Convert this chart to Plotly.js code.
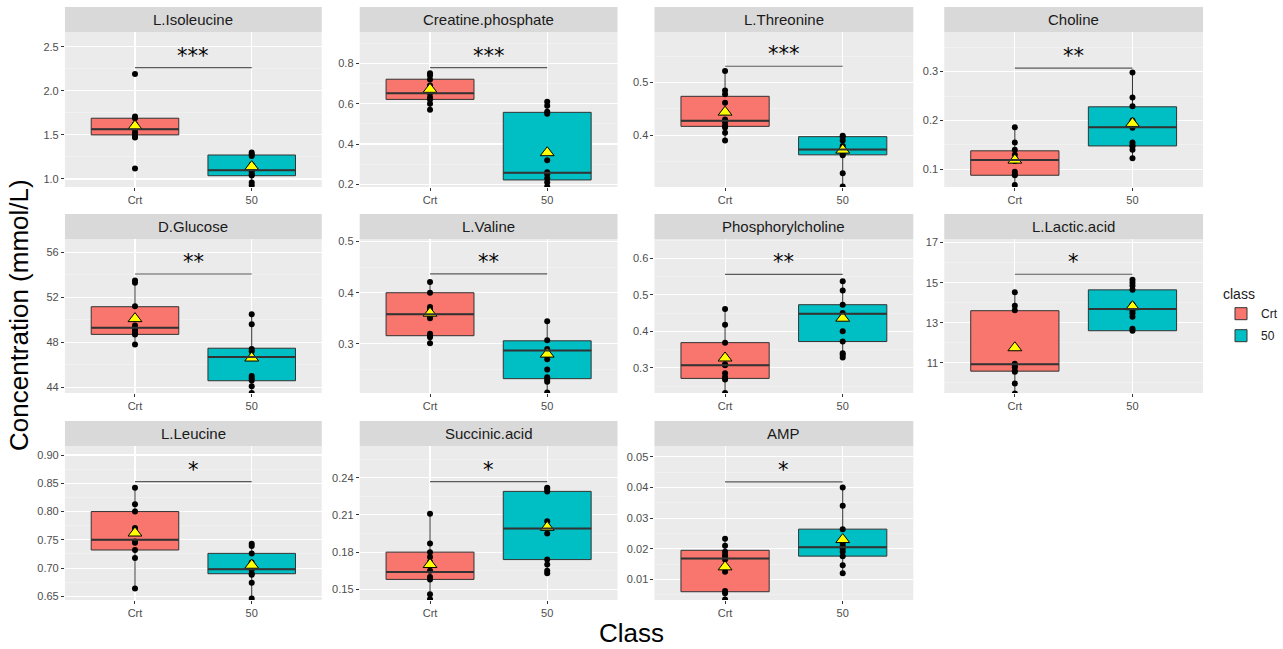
<!DOCTYPE html>
<html><head><meta charset="utf-8">
<script src="https://cdn.plot.ly/plotly-3.0.1.min.js"></script>
<style>html,body{margin:0;padding:0;background:#fff;} #chart{width:1283px;height:649px;}</style>
</head><body><div id="chart"></div>
<script>
// ---------------- DATA ----------------
const metabolites = ['L.Isoleucine','Creatine.phosphate','L.Threonine','Choline','D.Glucose','L.Valine','Phosphorylcholine','L.Lactic.acid','L.Leucine','Succinic.acid','AMP'];
const classes = ['Crt','50'];

const crtPoints = [
  [2.19,1.71,1.69,1.62,1.57,1.53,1.50,1.48,1.47,1.12],
  [0.75,0.74,0.72,0.69,0.66,0.65,0.63,0.62,0.60,0.57],
  [0.522,0.485,0.478,0.462,0.43,0.425,0.418,0.415,0.405,0.39],
  [0.186,0.155,0.14,0.13,0.12,0.117,0.095,0.09,0.088,0.068],
  [53.5,53.3,51.2,50.1,49.5,49.2,49.0,48.8,48.7,47.8],
  [0.421,0.40,0.372,0.368,0.355,0.35,0.32,0.316,0.313,0.301],
  [0.461,0.418,0.369,0.33,0.31,0.307,0.285,0.275,0.268,0.231],
  [14.52,13.85,13.62,10.95,10.87,10.78,10.6,10.55,9.97,9.47],
  [0.842,0.813,0.80,0.771,0.765,0.747,0.745,0.732,0.718,0.664],
  [0.211,0.187,0.18,0.176,0.172,0.165,0.16,0.158,0.146,0.142],
  [0.0233,0.021,0.019,0.018,0.0176,0.0165,0.0125,0.0062,0.0055,0.0035]
];
const g50Points = [
  [1.30,1.28,1.26,1.16,1.10,1.08,1.05,1.04,0.96,0.93],
  [0.61,0.59,0.56,0.55,0.32,0.26,0.25,0.23,0.21,0.19],
  [0.399,0.397,0.39,0.38,0.375,0.372,0.365,0.362,0.328,0.303],
  [0.298,0.247,0.229,0.2,0.185,0.155,0.15,0.147,0.14,0.123],
  [50.5,49.6,47.4,47.2,46.7,45.0,44.8,44.6,44.1,43.5],
  [0.344,0.307,0.29,0.285,0.27,0.25,0.235,0.23,0.226,0.205],
  [0.537,0.512,0.473,0.45,0.445,0.40,0.372,0.34,0.335,0.328],
  [15.14,15.0,14.85,14.64,13.9,13.6,13.47,13.3,12.7,12.6],
  [0.743,0.739,0.726,0.71,0.70,0.697,0.69,0.688,0.674,0.646],
  [0.232,0.231,0.229,0.205,0.2,0.195,0.174,0.17,0.165,0.163],
  [0.040,0.034,0.0264,0.022,0.021,0.020,0.019,0.0176,0.0146,0.012]
];

const crtQ1     = [1.50,0.621,0.417,0.088,48.7,0.316,0.271,10.58,0.732,0.158,0.006];
const crtMedian = [1.565,0.651,0.4275,0.119,49.3,0.358,0.307,10.92,0.75,0.164,0.0168];
const crtQ3     = [1.689,0.721,0.474,0.138,51.16,0.40,0.369,13.6,0.80,0.18,0.0195];
const crtLower  = [1.47,0.57,0.39,0.068,47.8,0.301,0.231,9.47,0.664,0.142,0.0035];
const crtUpper  = [1.71,0.75,0.522,0.186,53.5,0.421,0.461,14.52,0.842,0.211,0.0233];
const crtMean   = [1.60,0.671,0.444,0.119,50.1,0.36,0.327,11.75,0.762,0.17,0.0141];

const g50Q1     = [1.037,0.222,0.363,0.148,44.58,0.232,0.372,12.6,0.69,0.174,0.0176];
const g50Median = [1.10,0.258,0.373,0.186,46.7,0.287,0.448,13.69,0.698,0.199,0.0205];
const g50Q3     = [1.272,0.557,0.3975,0.228,47.47,0.306,0.473,14.64,0.726,0.229,0.0264];
const g50Lower  = [0.93,0.19,0.303,0.123,43.5,0.205,0.328,12.6,0.646,0.163,0.012];
const g50Upper  = [1.30,0.61,0.399,0.298,50.5,0.344,0.537,15.14,0.743,0.232,0.040];
const g50Mean   = [1.14,0.357,0.372,0.194,46.6,0.28,0.436,13.8,0.705,0.2,0.023];

const signifLabels = ['***','***','***','**','**','**','**','*','*','*','*'];
const signifY      = [2.262,0.778,0.531,0.307,54.07,0.437,0.556,15.42,0.853,0.2368,0.0418];

// axis scales
const yRanges = [[0.909,2.667],[0.187,0.955],[0.302,0.596],[0.064,0.381],[43.49,57.18],[0.204,0.505],[0.231,0.653],[9.49,17.18],[0.6435,0.916],[0.1414,0.2656],[0.0033,0.0535]];
const yTick0  = [1.0,0.2,0.4,0.1,44,0.3,0.3,11,0.65,0.15,0.01];
const yDtick  = [0.5,0.2,0.1,0.1,4,0.1,0.1,2,0.05,0.03,0.01];
const yFormat = ['.1f','.1f','.1f','.1f','.0f','.1f','.1f','.0f','.2f','.2f','.2f'];

// ---------------- LAYOUT GEOMETRY (pixels) ----------------
const W = 1283, H = 649;
const cols = [[65,322],[360,618],[655,914],[945,1204]];
const rows = [[32,187],[239,393],[446,600]];
const stripH = 25;
const colors = {Crt:'#F8766D', '50':'#00BFC4'};
const FONT = 'Liberation Sans, Arial, sans-serif';

const traces = [];
const layout = {
  width: W, height: H,
  margin: {l:0, r:0, t:0, b:0},
  paper_bgcolor: '#FFFFFF',
  plot_bgcolor: '#EBEBEB',
  boxmode: 'overlay',
  font: {family: FONT, color: '#4D4D4D', size: 11},
  showlegend: true,
  legend: {
    x: 1222/W, y: 1 - 281/H, xanchor: 'left', yanchor: 'top',
    title: {text: 'class', font: {size: 14, color: '#1A1A1A', family: FONT}},
    font: {size: 12, color: '#1A1A1A', family: FONT},
    bgcolor: 'rgba(0,0,0,0)', tracegroupgap: 3, itemwidth: 30
  },
  shapes: [], annotations: []
};

const groups = [
  {cls:'Crt', pts: crtPoints, q1: crtQ1, med: crtMedian, q3: crtQ3, lo: crtLower, hi: crtUpper, mean: crtMean},
  {cls:'50',  pts: g50Points, q1: g50Q1, med: g50Median, q3: g50Q3, lo: g50Lower, hi: g50Upper, mean: g50Mean}
];

metabolites.forEach((name, i) => {
  const r = Math.floor(i / 4), c = i % 4;
  const n = i === 0 ? '' : String(i + 1);
  const xa = 'x' + n, ya = 'y' + n;
  const [px0, px1] = cols[c];
  const [py0, py1] = rows[r];

  layout['xaxis' + n] = {
    domain: [px0 / W, px1 / W], anchor: ya, type: 'category',
    categoryorder: 'array', categoryarray: classes,
    range: [-0.6, 1.6], showgrid: true, gridcolor: '#FFFFFF', gridwidth: 1.1,
    zeroline: false, showline: false, ticks: 'outside', ticklen: 3, tickcolor: '#333333',
    tickfont: {size: 11, color: '#4D4D4D', family: FONT}, fixedrange: true
  };
  layout['yaxis' + n] = {
    domain: [1 - py1 / H, 1 - py0 / H], anchor: xa, range: yRanges[i],
    tickmode: 'linear', tick0: yTick0[i], dtick: yDtick[i], tickformat: yFormat[i],
    showgrid: true, gridcolor: '#FFFFFF', gridwidth: 1.1,
    minor: {tick0: yTick0[i], dtick: yDtick[i] / 2, showgrid: true, gridcolor: '#F5F5F5', gridwidth: 0.6, ticks: ''},
    zeroline: false, showline: false, ticks: 'outside', ticklen: 3, tickcolor: '#333333',
    tickfont: {size: 11, color: '#4D4D4D', family: FONT}, fixedrange: true
  };

  // strip
  layout.shapes.push({
    type: 'rect', xref: 'paper', yref: 'paper',
    x0: px0 / W, x1: px1 / W, y0: 1 - py0 / H, y1: 1 - (py0 - stripH) / H,
    fillcolor: '#D9D9D9', line: {width: 0}
  });
  layout.annotations.push({
    xref: 'paper', yref: 'paper', x: (px0 + px1) / 2 / W, y: 1 - (py0 - stripH / 2) / H,
    text: name, showarrow: false, xanchor: 'center', yanchor: 'middle',
    font: {size: 15, color: '#1A1A1A', family: FONT}
  });

  groups.forEach((g, k) => {
    traces.push({
      type: 'box', name: g.cls, legendgroup: g.cls, showlegend: i === 0,
      x: [g.cls], q1: [g.q1[i]], median: [g.med[i]], q3: [g.q3[i]],
      lowerfence: [g.lo[i]], upperfence: [g.hi[i]],
      xaxis: xa, yaxis: ya, width: 0.75, whiskerwidth: 0,
      fillcolor: colors[g.cls], line: {color: '#333333', width: 1},
      boxpoints: false, hoverinfo: 'skip'
    });
    // thicker median line (ggplot fatten)
    layout.shapes.push({
      type: 'line', xref: xa, yref: ya,
      x0: k - 0.375, x1: k + 0.375, y0: g.med[i], y1: g.med[i],
      line: {color: '#333333', width: 2}
    });
  });
  groups.forEach(g => {
    traces.push({
      type: 'scatter', mode: 'markers', showlegend: false,
      x: g.pts[i].map(() => g.cls), y: g.pts[i],
      xaxis: xa, yaxis: ya,
      marker: {color: '#000000', size: 6}, hoverinfo: 'skip'
    });
  });
  traces.push({
    type: 'scatter', mode: 'markers', showlegend: false,
    x: groups.map(g => g.cls), y: groups.map(g => g.mean[i]),
    xaxis: xa, yaxis: ya,
    marker: {symbol: 'triangle-up', size: 12, color: '#FFFF00', line: {color: '#000000', width: 1}},
    hoverinfo: 'skip'
  });

  // significance bracket
  layout.shapes.push({
    type: 'line', xref: xa, yref: ya,
    x0: classes.indexOf('Crt'), x1: classes.indexOf('50'), y0: signifY[i], y1: signifY[i],
    line: {color: '#5A5A5A', width: 1.2}
  });
  layout.annotations.push({
    xref: xa, yref: ya, x: 0.5, y: signifY[i], text: signifLabels[i],
    showarrow: false, xanchor: 'center', yanchor: 'bottom', yshift: -2,
    font: {size: 21, color: '#000000', family: 'DejaVu Sans, sans-serif'}
  });
});

// global axis titles
layout.annotations.push({
  xref: 'paper', yref: 'paper', x: 19 / W, y: 1 - 315 / H, text: 'Concentration (mmol/L)',
  textangle: -90, showarrow: false, xanchor: 'center', yanchor: 'middle',
  font: {size: 26, color: '#000000', family: FONT}
});
layout.annotations.push({
  xref: 'paper', yref: 'paper', x: 632 / W, y: 1 - 633 / H, text: 'Class',
  showarrow: false, xanchor: 'center', yanchor: 'middle',
  font: {size: 26, color: '#000000', family: FONT}
});

Plotly.newPlot('chart', traces, layout, {displayModeBar: false, staticPlot: true});
</script>
</body></html>
